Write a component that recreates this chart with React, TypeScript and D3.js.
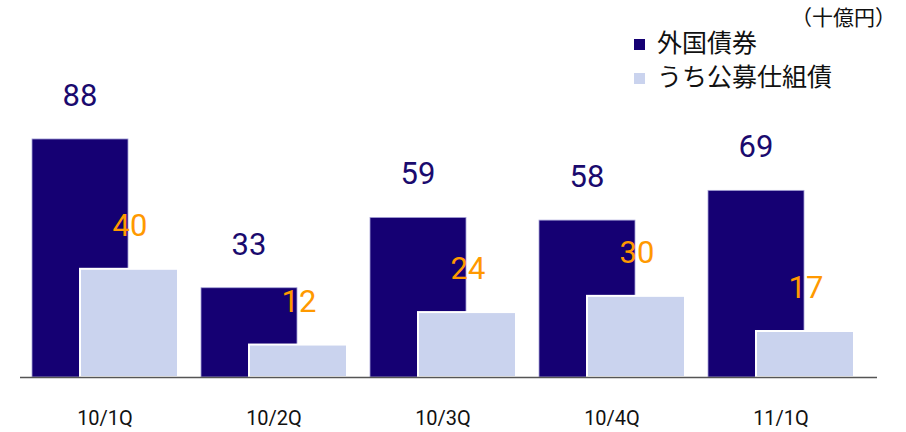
import React from "react";
import * as d3 from "d3";

// 十億円
const categories = ["10/1Q", "10/2Q", "10/3Q", "10/4Q", "11/1Q"];
const foreignBonds = [88, 33, 59, 58, 69];
const structuredBonds = [40, 12, 24, 30, 17];
const seriesNames = ["外国債券", "うち公募仕組債"];
const unitLabel = "（十億円）";

const W = 906;
const H = 432;
const baseY = 377;

const DARK = "#150073";
const LIGHT = "#cad3ee";
const ORANGE = "#ff9900";
const NUM_FONT = "Roboto, 'Noto Sans', sans-serif";
const JP_FONT = "'Noto Sans CJK JP', 'Noto Sans', sans-serif";

const App = () => {
  const x = d3.scaleBand<string>()
    .domain(categories)
    .range([32, 854])
    .paddingInner(23 / 169)
    .paddingOuter(0);

  const y = d3.scaleLinear().domain([0, 100]).range([baseY, baseY - 270.5]);

  const bw = x.bandwidth();
  const darkW = bw * 96 / 146;
  const lightOff = bw * 48 / 146;
  const lightW = bw - lightOff;

  return (
    <svg width={W} height={H} style={{ position: "absolute", left: 0, top: 0 }}>
      <rect width={W} height={H} fill="#fff" />

      {categories.map((c, i) => {
        const x0 = x(c) as number;
        const dv = foreignBonds[i];
        const lv = structuredBonds[i];
        return (
          <g key={c}>
            <rect x={x0} y={y(dv)} width={darkW} height={baseY - y(dv)}
              fill={DARK} stroke="#a8a4d8" strokeWidth={0.8} />
            <rect x={x0 + lightOff} y={y(lv)} width={lightW} height={baseY - y(lv)}
              fill={LIGHT} stroke="#fff" strokeWidth={2} />
            <text x={x0 + darkW / 2} y={y(dv) - 33} textAnchor="middle"
              fontFamily={NUM_FONT} fontSize={31} fill="#1a0a6e">{dv}</text>
            <text x={x0 + darkW + 2} y={y(lv) - 33} textAnchor="middle"
              fontFamily={NUM_FONT} fontSize={31} fill={ORANGE}>{lv}</text>
            <text x={x0 + bw / 2} y={425} textAnchor="middle"
              fontFamily={NUM_FONT} fontSize={20} fill="#111">{c}</text>
          </g>
        );
      })}

      <line x1={20} x2={877} y1={baseY + 0.5} y2={baseY + 0.5} stroke="#555" strokeWidth={1.5} />

      {/* legend */}
      {seriesNames.map((s, i) => (
        <g key={s} transform={`translate(634, ${39 + i * 34})`}>
          <rect width={11} height={11} fill={i === 0 ? DARK : LIGHT} />
          <text x={23} y={13} fontFamily={JP_FONT} fontSize={25} fill="#111">{s}</text>
        </g>
      ))}
      <text x={791} y={25} fontFamily={JP_FONT} fontSize={21} fill="#111">{unitLabel}</text>
    </svg>
  );
};

export default App;
